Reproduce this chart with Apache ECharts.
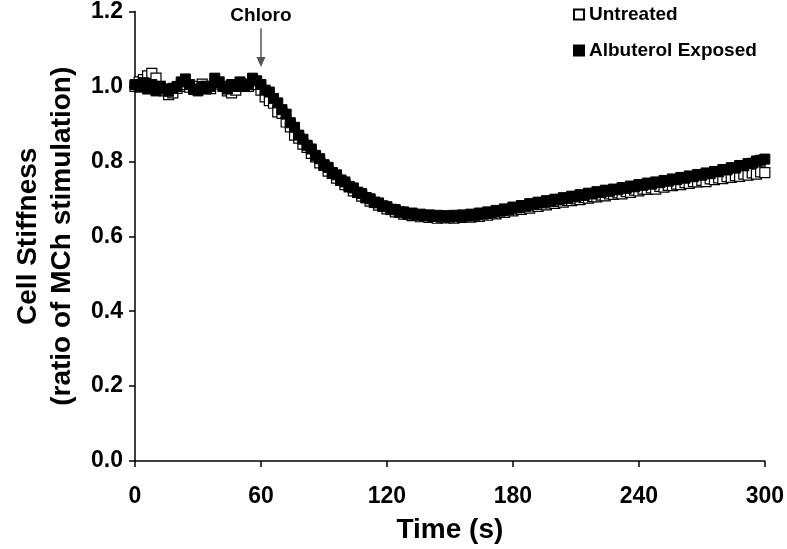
<!DOCTYPE html>
<html>
<head>
<meta charset="utf-8">
<script src="https://cdn.jsdelivr.net/npm/echarts@6/dist/echarts.min.js"></script>
<style>
html,body{margin:0;padding:0;background:#fff;}
#chart{width:787px;height:549px;}
</style>
</head>
<body>
<div id="chart"></div>
<script>
// Time samples (s)
const times = [
0,2,4,6,8,10,12,14,16,18,20,22,24,26,28,30,32,34,36,38,40,42,44,46,48,50,52,54,56,58,
60,62,64,66,68,70,72,74,76,78,80,82,84,86,88,90,92,94,96,98,100,102,104,106,108,110,112,114,116,118,
120,122,124,126,128,130,132,134,136,138,140,142,144,146,148,150,152,154,156,158,160,162,164,166,168,170,172,174,176,178,
180,182,184,186,188,190,192,194,196,198,200,202,204,206,208,210,212,214,216,218,220,222,224,226,228,230,232,234,236,238,
240,242,244,246,248,250,252,254,256,258,260,262,264,266,268,270,272,274,276,278,280,282,284,286,288,290,292,294,296,298,300
];

// Untreated (hollow squares)
const untreated = [
1.000,1.012,1.018,1.028,1.035,1.022,1.000,0.988,0.978,0.983,0.995,1.000,1.005,0.998,0.992,1.000,1.006,1.000,0.994,1.006,
1.012,1.000,0.988,0.983,0.990,1.000,1.006,1.000,1.012,1.005,
0.990,0.972,0.962,0.955,0.932,0.928,0.905,0.892,0.870,0.862,0.846,0.837,0.821,0.812,0.796,0.789,0.774,0.768,0.755,0.749,
0.738,0.732,0.721,0.717,0.707,0.703,0.694,0.691,0.683,0.681,
0.673,0.672,0.665,0.665,0.659,0.660,0.655,0.656,0.652,0.654,0.650,0.652,0.648,0.651,0.649,0.651,0.648,0.652,0.650,0.653,
0.651,0.655,0.653,0.658,0.656,0.661,0.660,0.665,0.664,0.669,
0.668,0.673,0.672,0.677,0.675,0.681,0.680,0.685,0.684,0.689,0.688,0.693,0.691,0.696,0.695,0.700,0.698,0.703,0.702,0.706,
0.705,0.710,0.708,0.713,0.712,0.716,0.713,0.719,0.717,0.723,
0.721,0.726,0.725,0.729,0.726,0.733,0.731,0.736,0.735,0.739,0.738,0.743,0.741,0.746,0.745,0.749,0.746,0.753,0.751,0.756,
0.754,0.759,0.757,0.762,0.760,0.766,0.763,0.769,0.766,0.772,0.770
];

// Albuterol Exposed (filled squares)
const albuterol = [
1.005,0.998,1.010,0.993,1.005,0.988,1.000,0.993,0.987,0.995,1.000,1.012,1.020,1.005,0.993,0.988,1.000,0.993,1.000,1.022,
1.010,1.000,0.993,1.005,1.000,1.012,1.000,1.005,1.022,1.015,
1.005,0.990,0.985,0.968,0.956,0.938,0.926,0.903,0.891,0.870,0.859,0.843,0.833,0.816,0.807,0.791,0.784,0.770,0.764,0.750,
0.745,0.733,0.729,0.717,0.714,0.703,0.700,0.690,0.689,0.680,
0.679,0.671,0.671,0.664,0.665,0.659,0.662,0.656,0.659,0.654,0.657,0.653,0.656,0.652,0.655,0.651,0.656,0.653,0.657,0.654,
0.659,0.656,0.662,0.659,0.665,0.663,0.669,0.667,0.673,0.671,
0.678,0.676,0.682,0.680,0.687,0.685,0.691,0.689,0.695,0.693,0.699,0.697,0.703,0.701,0.707,0.705,0.711,0.709,0.715,0.713,
0.719,0.717,0.723,0.720,0.726,0.724,0.730,0.728,0.734,0.732,
0.738,0.736,0.742,0.739,0.745,0.743,0.749,0.747,0.753,0.751,0.757,0.755,0.761,0.759,0.765,0.763,0.769,0.767,0.773,0.772,
0.778,0.777,0.783,0.782,0.789,0.788,0.794,0.795,0.801,0.803,0.806
];

// Axis ticks
const xTicks = [0, 60, 120, 180, 240, 300];
const yTicks = [0.0, 0.2, 0.4, 0.6, 0.8, 1.0, 1.2];

// Annotation
const annotationText = 'Chloro';
const annotationTime = 60;
const annotationFrom = 1.155;
const annotationTo = 1.065;

const FONT = '"Liberation Sans", Arial, Helvetica, sans-serif';

function pairs(ts, vs) { return ts.map((t, i) => [t, vs[i]]); }

const chart = echarts.init(document.getElementById('chart'), null, {renderer: 'canvas'});
const option = {
  animation: false,
  backgroundColor: '#ffffff',
  grid: {left: 135, right: 22, top: 10, bottom: 88, containLabel: false},
  legend: {
    orient: 'vertical',
    left: 568,
    top: 0,
    itemWidth: 10,
    itemHeight: 10,
    itemGap: 17,
    icon: 'rect',
    textStyle: {fontFamily: FONT, fontWeight: 'bold', fontSize: 19, color: '#000'},
    data: ['Untreated', 'Albuterol Exposed']
  },
  xAxis: {
    type: 'value',
    min: xTicks[0],
    max: xTicks[xTicks.length - 1],
    interval: 60,
    name: 'Time (s)',
    nameLocation: 'middle',
    nameGap: 55,
    nameTextStyle: {fontFamily: FONT, fontWeight: 'bold', fontSize: 28, color: '#000'},
    axisLine: {show: true, lineStyle: {color: '#000', width: 1.5}},
    axisTick: {show: true, inside: false, length: 6, lineStyle: {color: '#000', width: 1.5}},
    axisLabel: {fontFamily: FONT, fontWeight: 'bold', fontSize: 23, color: '#000', margin: 24},
    splitLine: {show: false}
  },
  yAxis: {
    type: 'value',
    min: yTicks[0],
    max: yTicks[yTicks.length - 1],
    interval: 0.2,
    name: 'Cell Stiffness\n(ratio of MCh stimulation)',
    nameLocation: 'middle',
    nameGap: 56,
    nameTextStyle: {fontFamily: FONT, fontWeight: 'bold', fontSize: 28, color: '#000', lineHeight: 34},
    axisLine: {show: true, lineStyle: {color: '#000', width: 1.5}},
    axisTick: {show: true, inside: false, length: 6, lineStyle: {color: '#000', width: 1.5}},
    axisLabel: {fontFamily: FONT, fontWeight: 'bold', fontSize: 23, color: '#000', margin: 12,
      formatter: v => v.toFixed(1)},
    splitLine: {show: false}
  },
  series: [
    {
      name: 'Untreated',
      type: 'scatter',
      symbol: 'rect',
      symbolSize: 10,
      itemStyle: {color: '#ffffff', borderColor: '#000', borderWidth: 1.2, opacity: 1},
      data: pairs(times, untreated),
      z: 2
    },
    {
      name: 'Albuterol Exposed',
      type: 'scatter',
      symbol: 'rect',
      symbolSize: 10,
      itemStyle: {color: '#000000', borderColor: '#000', borderWidth: 1, opacity: 1},
      data: pairs(times, albuterol),
      z: 3,
      markLine: {
        silent: true,
        symbol: ['none', 'triangle'],
        symbolSize: [9, 10],
        lineStyle: {color: '#555', width: 1.5, type: 'solid'},
        label: {show: true, position: 'start', formatter: annotationText,
          fontFamily: FONT, fontWeight: 'bold', fontSize: 19, color: '#000', distance: 3},
        data: [[{coord: [annotationTime, annotationFrom]}, {coord: [annotationTime, annotationTo]}]]
      }
    }
  ]
};
chart.setOption(option);
</script>
</body>
</html>
